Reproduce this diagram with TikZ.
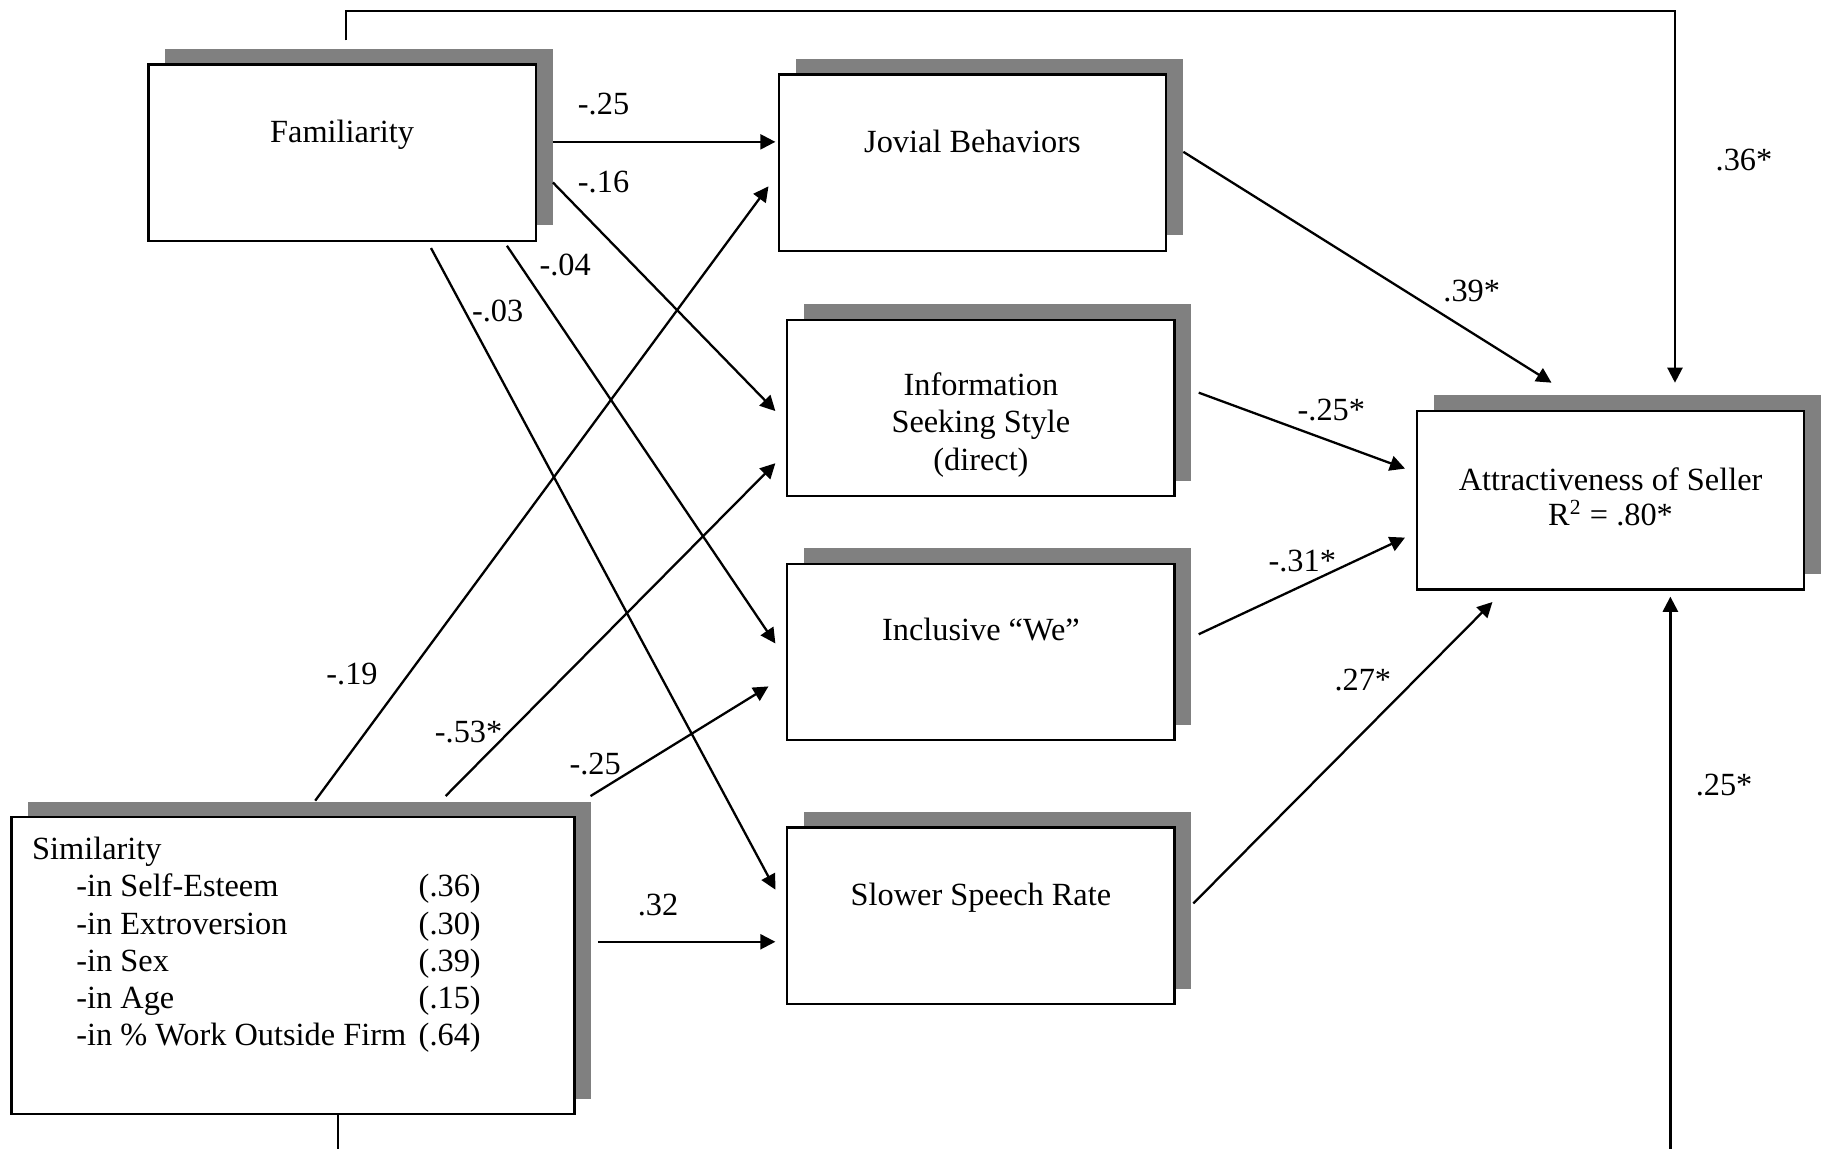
\documentclass[tikz,border=0pt]{standalone}
\usepackage{fontspec}
\setmainfont{Liberation Serif}
\usetikzlibrary{arrows.meta,shadows,positioning}

\begin{document}
\begin{tikzpicture}[->,>={Triangle[length=5.6pt,width=5.6pt]},line width=0.85pt,node distance=0.27cm,
    font=\fontsize{12pt}{13.8pt}\selectfont,
    box/.style={-,draw,fill=white,minimum width=5.05cm,minimum height=2.30cm,
        drop shadow={shadow xshift=0.22cm,shadow yshift=0.2cm,fill=gray,opacity=1}},
    coef/.style={inner sep=1pt}]
    \useasboundingbox (0,0) rectangle (23.77,14.98);

    % boxes
    \node[box] (fam) at (4.46,12.99) {};
    \node[box] (jov) at (12.68,12.86) {};
    \node[box] (info) at (12.79,9.66) {};
    \node[box] (incl) at (12.79,6.48) {};
    \node[box] (slow) at (12.79,3.04) {};
    \node[box, minimum height=2.33cm] (attr) at (21.00,8.46) {};
    \node[box, minimum width=7.34cm, minimum height=3.87cm] (sim) at (3.82,2.39) {};

    % box texts
    \node[] (famtext) [above of = fam, yshift = -0.04cm] {Familiarity};
    \node[] (jovtext) [above of = jov] {Jovial Behaviors};
    \node[align=center] (infotext) [below of = info, yshift = 0.05cm] {Information\\Seeking Style\\(direct)};
    \node[] (incltext) [above of = incl, yshift = 0.02cm] {Inclusive “We”};
    \node[] (slowtext) [above of = slow, yshift = -0.04cm] {Slower Speech Rate};
    \node[align=center] (attrtext) at ([yshift=0.04cm]attr) {Attractiveness of Seller\\[-0.6pt]R\textsuperscript{2} = .80*};
    \node[anchor=base west, inner sep=0pt] (simtext) at ([xshift=0.27cm,yshift=-0.57cm]sim.north west)
        {\begin{tabular}[t]{@{\hspace{16.4pt}}p{127pt}@{}l@{}}
            \multicolumn{2}{@{}l}{Similarity}\\
            -in Self-Esteem & (.36)\\
            -in Extroversion & (.30)\\
            -in Sex & (.39)\\
            -in Age & (.15)\\
            -in \% Work Outside Firm & (.64)
        \end{tabular}};

    % paths
    \draw ([xshift=0.21cm,yshift=0.14cm]fam.east) -- ([xshift=-0.03cm,yshift=0.27cm]jov.west);
    \draw ([xshift=0.21cm,yshift=-0.39cm]fam.east) -- ([xshift=-0.14cm,yshift=-0.04cm]info.west);
    \draw ([xshift=2.15cm,yshift=-0.05cm]fam.south) -- ([xshift=-0.14cm,yshift=0.11cm]incl.west);
    \draw ([xshift=1.16cm,yshift=-0.08cm]fam.south) -- ([xshift=-0.14cm,yshift=0.34cm]slow.west);
    \draw ([xshift=0.29cm,yshift=0.20cm]sim.north) -- ([xshift=-0.12cm,yshift=-0.31cm]jov.west);
    \draw ([xshift=1.99cm,yshift=0.26cm]sim.north) -- ([xshift=-0.14cm,yshift=-0.72cm]info.west);
    \draw ([xshift=3.88cm,yshift=0.26cm]sim.north) -- ([xshift=-0.23cm,yshift=-0.45cm]incl.west);
    \draw ([xshift=0.29cm,yshift=0.31cm]sim.east) -- ([xshift=-0.14cm,yshift=-0.34cm]slow.west);
    \draw ([xshift=0.21cm,yshift=0.14cm]jov.east) -- ([xshift=-0.77cm,yshift=0.35cm]attr.north);
    \draw ([xshift=0.30cm,yshift=0.20cm]info.east) -- ([xshift=-0.14cm,yshift=0.41cm]attr.west);
    \draw ([xshift=0.30cm,yshift=0.23cm]incl.east) -- ([xshift=-0.14cm,yshift=-0.49cm]attr.west);
    \draw ([xshift=0.23cm,yshift=0.16cm]slow.east) -- ([xshift=-1.54cm,yshift=-0.15cm]attr.south);
    \draw ([xshift=0.05cm,yshift=0.30cm]fam.north) -- ++(0,0.38) -| ([xshift=0.84cm,yshift=0.35cm]attr.north);
    \draw ([xshift=0.59cm]sim.south) -- ++(0,-0.6) -| ([xshift=0.78cm,yshift=-0.08cm]attr.south);

    % coefficients
    \node[coef] (c1) at (7.87,13.63) {-.25};
    \node[coef] (c2) at (7.87,12.60) {-.16};
    \node[coef] (c3) at (7.37,11.52) {-.04};
    \node[coef] (c4) at (6.49,10.92) {-.03};
    \node[coef] (c5) at (4.59,6.19) {-.19};
    \node[coef] (c6) at (6.11,5.43) {-.53*};
    \node[coef] (c7) at (7.76,5.02) {-.25};
    \node[coef] (c8) at (8.58,3.18) {.32};
    \node[coef] (c9) at (19.19,11.19) {.39*};
    \node[coef] (c10) at (17.36,9.64) {-.25*};
    \node[coef] (c11) at (16.98,7.66) {-.31*};
    \node[coef] (c12) at (17.77,6.11) {.27*};
    \node[coef] (c13) at (22.74,12.89) {.36*};
    \node[coef] (c14) at (22.48,4.75) {.25*};
\end{tikzpicture}
\end{document}
